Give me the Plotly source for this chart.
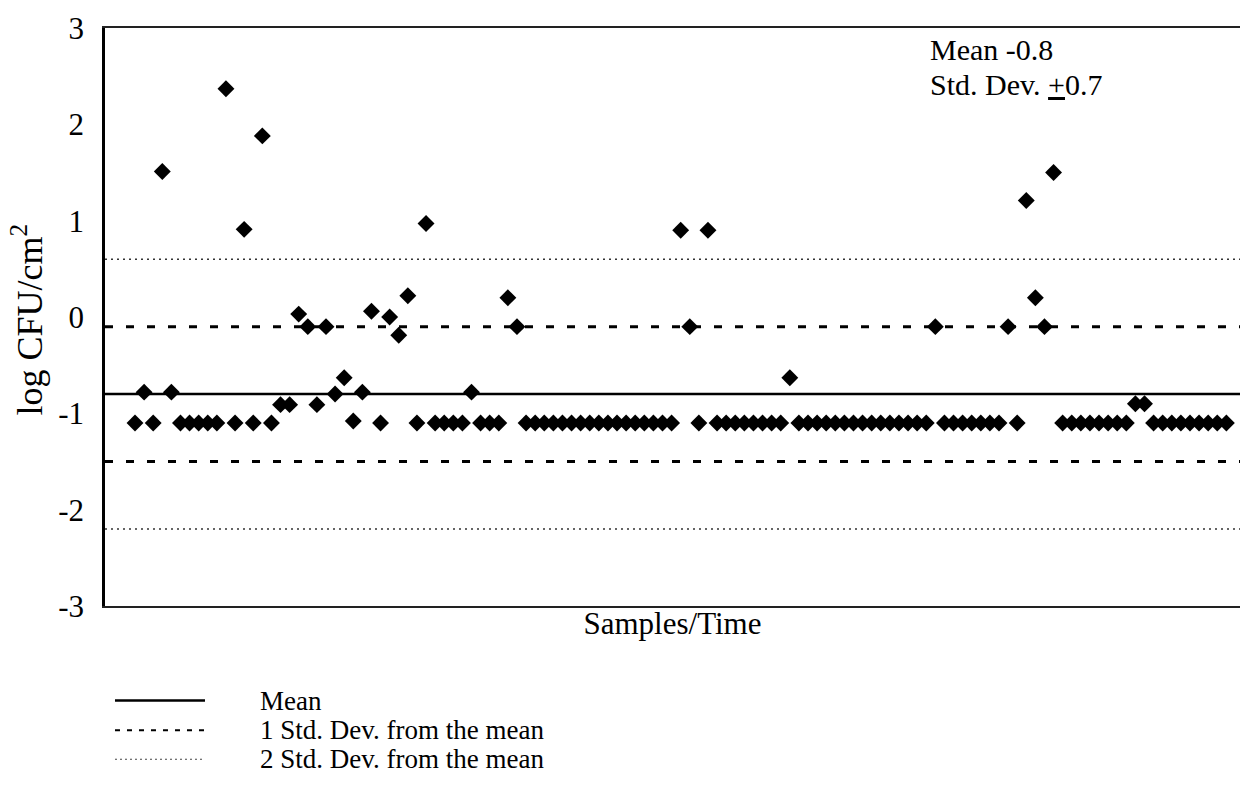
import plotly.graph_objects as go

# log CFU/cm2 per sample, in sampling order
sample_no = list(range(1, 122))
log_cfu = [
    -1.1, -0.78, -1.1, 1.51, -0.78, -1.1, -1.1, -1.1, -1.1, -1.1,
    2.37, -1.1, 0.91, -1.1, 1.88, -1.1, -0.91, -0.91, 0.03, -0.1,
    -0.91, -0.1, -0.8, -0.63, -1.08, -0.78, 0.06, -1.1, 0.0, -0.19,
    0.22, -1.1, 0.97, -1.1, -1.1, -1.1, -1.1, -0.78, -1.1, -1.1,
    -1.1, 0.2, -0.1, -1.1, -1.1, -1.1, -1.1, -1.1, -1.1, -1.1,
    -1.1, -1.1, -1.1, -1.1, -1.1, -1.1, -1.1, -1.1, -1.1, -1.1,
    0.9, -0.1, -1.1, 0.9, -1.1, -1.1, -1.1, -1.1, -1.1, -1.1,
    -1.1, -1.1, -0.63, -1.1, -1.1, -1.1, -1.1, -1.1, -1.1, -1.1,
    -1.1, -1.1, -1.1, -1.1, -1.1, -1.1, -1.1, -1.1, -0.1, -1.1,
    -1.1, -1.1, -1.1, -1.1, -1.1, -1.1, -0.1, -1.1, 1.21, 0.2,
    -0.1, 1.5, -1.1, -1.1, -1.1, -1.1, -1.1, -1.1, -1.1, -1.1,
    -0.9, -0.9, -1.1, -1.1, -1.1, -1.1, -1.1, -1.1, -1.1, -1.1,
    -1.1,
]

MEAN = -0.8
SD = 0.7
y_ticks = [-3, -2, -1, 0, 1, 2, 3]
y_tick_text = ["-3", "-2", "-1", "0", "1", "2", "3"]
legend_labels = ["Mean", "1 Std. Dev. from the mean", "2 Std. Dev. from the mean"]

FONT = "Liberation Serif, Times New Roman, serif"
BLACK = "black"

fig = go.Figure()
fig.add_trace(go.Scatter(
    x=sample_no, y=log_cfu, mode="markers",
    marker=dict(symbol="diamond", size=13, color=BLACK, line=dict(width=0)),
    showlegend=False, hoverinfo="x+y",
))

# reference lines: mean, +/-1 SD, +/-2 SD
line_styles = [
    dict(color=BLACK, width=2.5, dash="solid"),
    dict(color=BLACK, width=3, dash="8px,13px"),
    dict(color="#333333", width=1.5, dash="2px,4px"),
]
key_styles = [
    dict(color=BLACK, width=2.5, dash="solid"),
    dict(color=BLACK, width=2, dash="5px,7px"),
    dict(color="#444444", width=1.2, dash="2px,3px"),
]
levels = [[MEAN], [MEAN + SD, MEAN - SD], [MEAN + 2 * SD, MEAN - 2 * SD]]
for lvl, st in zip(levels, line_styles):
    for yv in lvl:
        fig.add_shape(type="line", xref="paper", x0=0, x1=1, yref="y", y0=yv, y1=yv,
                      line=st, layer="below")

# legend keys drawn below the plot
key_y = [-0.1635, -0.2151, -0.2651]
for ky, st, lab in zip(key_y, key_styles, legend_labels):
    fig.add_shape(type="line", xref="paper", yref="paper", x0=0.0088, x1=0.0881,
                  y0=ky, y1=ky, line=st)
    fig.add_annotation(xref="paper", yref="paper", x=0.1348, y=ky, text=lab,
                       showarrow=False, xanchor="left", yanchor="middle",
                       font=dict(family=FONT, size=27, color=BLACK))

fig.add_annotation(xref="paper", yref="paper", x=0.7251, y=0.9621, text=f"Mean {MEAN}",
                   showarrow=False, xanchor="left", yanchor="middle",
                   font=dict(family=FONT, size=30, color=BLACK))
fig.add_annotation(xref="paper", yref="paper", x=0.7251, y=0.9019,
                   text=f"Std. Dev. <u>+</u>{SD}",
                   showarrow=False, xanchor="left", yanchor="middle",
                   font=dict(family=FONT, size=30, color=BLACK))
fig.add_annotation(xref="paper", yref="paper", x=-0.0687, y=0.4957,
                   text="log CFU/cm<sup>2</sup>", textangle=-90,
                   showarrow=False, xanchor="center", yanchor="middle",
                   font=dict(family=FONT, size=36, color=BLACK))

fig.update_layout(
    width=1251, height=796,
    margin=dict(l=105, r=11, t=25, b=190),
    paper_bgcolor="white", plot_bgcolor="white",
    font=dict(family=FONT, size=27, color=BLACK),
    xaxis=dict(range=[-2.3, 122.5], showgrid=False, zeroline=False,
               showticklabels=False, ticks="",
               showline=True, mirror=True, linecolor="#222222", linewidth=1.5,
               title=dict(text="Samples/Time", standoff=6,
                          font=dict(family=FONT, size=31, color=BLACK))),
    yaxis=dict(range=[-3, 3], tickvals=y_ticks, ticktext=y_tick_text,
               showgrid=False, zeroline=False,
               ticks="", ticklabelstandoff=12,
               showline=True, linecolor=BLACK, linewidth=2.5,
               tickfont=dict(family=FONT, size=31, color=BLACK)),
)

fig.write_html("out.html")
